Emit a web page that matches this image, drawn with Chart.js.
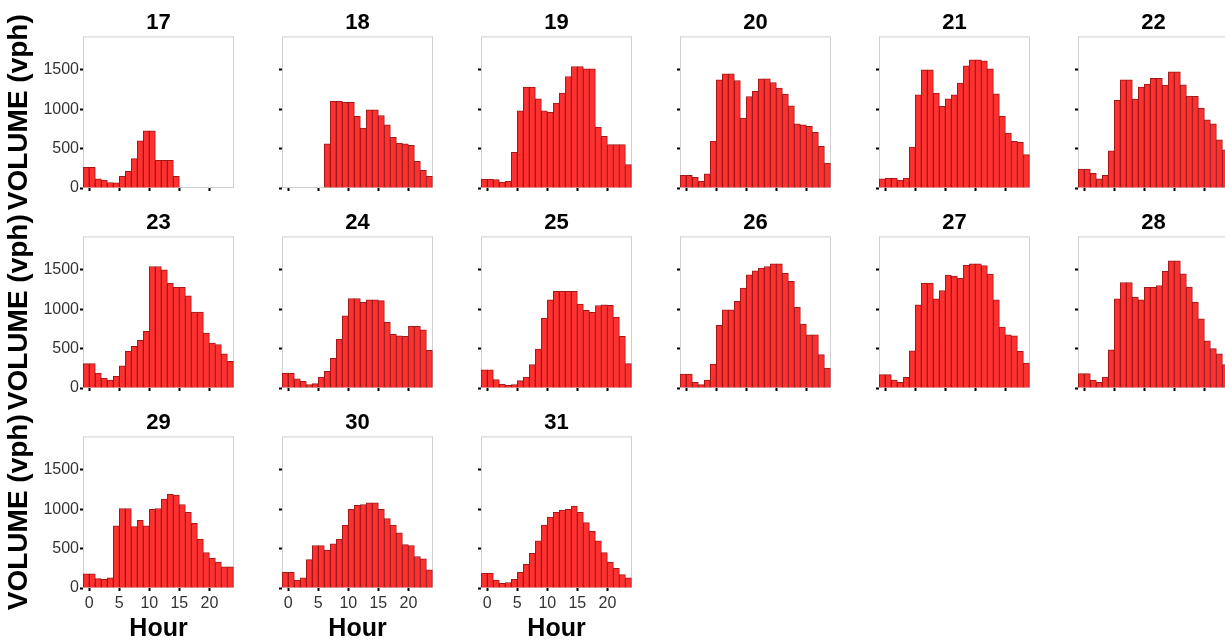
<!DOCTYPE html>
<html>
<head>
<meta charset="utf-8">
<title>Hourly volume by day</title>
<script src="https://cdn.jsdelivr.net/npm/chart.js@4.4.0/dist/chart.umd.min.js"></script>
<style>
    html, body { margin: 0; padding: 0; width: 1225px; height: 644px; overflow: hidden; background: #fff; }
    #grid { position: relative; width: 1225px; height: 644px; }
    #grid canvas { position: absolute; }
</style>
</head>
<body>
<div id="grid"></div>
<script>
// day of month shown above each panel
const days = [17, 18, 19, 20, 21, 22, 23, 24, 25, 26, 27, 28, 29, 30, 31];

// hourly bins, each bar covers [start, start + 1)
const binStarts = [-1, 0, 1, 2, 3, 4, 5, 6, 7, 8, 9, 10, 11, 12, 13, 14, 15, 16, 17, 18, 19, 20, 21, 22, 23];

const xTicks = [0, 5, 10, 15, 20];
const yTicks = [0, 500, 1000, 1500];

// volume (vph) per bin
const vol17 = [262, 262, 118, 100, 70, 65, 148, 211, 372, 600, 727, 727, 351, 351, 351, 148, 0, 0, 0, 0, 0, 0, 0, 0, 0];
const vol18 = [0, 0, 0, 0, 0, 0, 0, 562, 1099, 1099, 1087, 1087, 909, 761, 993, 993, 921, 803, 642, 571, 562, 541, 338, 224, 148];
const vol19 = [114, 114, 106, 76, 85, 452, 981, 1281, 1281, 1133, 981, 960, 1078, 1205, 1416, 1543, 1543, 1513, 1513, 773, 655, 550, 550, 550, 296];
const vol20 = [161, 161, 135, 85, 180, 596, 1374, 1450, 1450, 1365, 888, 1162, 1226, 1386, 1386, 1340, 1268, 1192, 1044, 816, 803, 782, 706, 528, 317];
const vol21 = [118, 127, 127, 101, 127, 520, 1184, 1500, 1500, 1205, 1036, 1133, 1184, 1331, 1551, 1627, 1627, 1615, 1513, 1196, 909, 697, 592, 579, 423];
const vol22 = [241, 241, 186, 118, 161, 473, 1112, 1374, 1374, 1129, 1281, 1319, 1391, 1391, 1306, 1475, 1475, 1310, 1167, 1163, 1015, 867, 816, 613, 486];
const vol23 = [309, 309, 190, 127, 101, 148, 283, 465, 528, 604, 719, 1543, 1543, 1500, 1331, 1277, 1277, 1171, 964, 964, 697, 571, 550, 435, 338];
const vol24 = [190, 190, 118, 85, 42, 55, 140, 211, 376, 621, 917, 1137, 1137, 1087, 1120, 1120, 1110, 833, 681, 664, 655, 782, 782, 740, 478];
const vol25 = [232, 232, 106, 51, 34, 42, 93, 140, 296, 495, 888, 1120, 1226, 1226, 1226, 1226, 1065, 985, 960, 1048, 1057, 1050, 900, 655, 309];
const vol26 = [178, 178, 72, 42, 101, 304, 795, 993, 993, 1099, 1268, 1437, 1488, 1522, 1543, 1577, 1577, 1458, 1353, 1023, 812, 676, 676, 423, 254];
const vol27 = [169, 169, 101, 72, 135, 473, 1057, 1331, 1331, 1133, 1238, 1433, 1420, 1395, 1560, 1577, 1577, 1556, 1446, 1120, 773, 676, 664, 465, 317];
const vol28 = [182, 182, 101, 72, 140, 486, 1133, 1340, 1340, 1154, 1120, 1277, 1277, 1302, 1480, 1615, 1615, 1450, 1281, 1091, 879, 600, 499, 435, 296];
const vol29 = [180, 180, 120, 110, 130, 790, 1010, 1010, 780, 860, 790, 1000, 1010, 1130, 1190, 1180, 1060, 960, 820, 620, 450, 380, 330, 270, 270];
const vol30 = [200, 200, 100, 130, 360, 540, 540, 480, 560, 620, 800, 1000, 1050, 1060, 1080, 1080, 1000, 880, 800, 700, 550, 540, 400, 370, 230];
const vol31 = [190, 190, 100, 60, 70, 110, 200, 300, 440, 600, 800, 900, 960, 990, 1000, 1040, 960, 830, 720, 600, 450, 330, 250, 170, 130];

const volumes = [vol17, vol18, vol19, vol20, vol21, vol22, vol23, vol24, vol25, vol26, vol27, vol28, vol29, vol30, vol31];

// layout of the small multiples
const COLS = 6;
const PLOT_W = 151, PLOT_H = 152;
const COL_STEP = 199, ROW_STEP = 200;
const FIRST_LEFT = 83, FIRST_TOP = 36;
const TITLE_H = 36, X_AXIS_H = 56, PAD_R = 4;
const FONT = '"Liberation Sans", Arial, Helvetica, sans-serif';

// light grey frame round each plot area
const plotFrame = {
    id: 'plotFrame',
    beforeDatasetsDraw(chart) {
        const { ctx, chartArea: a } = chart;
        ctx.save();
        ctx.strokeStyle = '#cfcfcf';
        ctx.lineWidth = 1;
        ctx.strokeRect(a.left + 0.5, a.top + 0.5, a.right - a.left - 1, a.bottom - a.top - 1);
        ctx.restore();
    }
};

const tickMarks = {
    display: true,
    drawOnChartArea: false,
    drawTicks: true,
    tickLength: 3,
    tickWidth: 2,
    tickColor: '#000'
};

function makePanel(day, values, index) {
    const col = index % COLS;
    const row = Math.floor(index / COLS);
    const firstCol = col === 0;
    const bottomRow = row === 2;
    const yWidth = firstCol ? 83 : 20;

    const canvas = document.createElement('canvas');
    const w = yWidth + PLOT_W + PAD_R;
    const h = TITLE_H + PLOT_H + X_AXIS_H;
    canvas.width = w;
    canvas.height = h;
    canvas.style.width = w + 'px';
    canvas.style.height = h + 'px';
    canvas.style.left = (FIRST_LEFT + col * COL_STEP - yWidth) + 'px';
    canvas.style.top = (FIRST_TOP + row * ROW_STEP - TITLE_H) + 'px';
    document.getElementById('grid').appendChild(canvas);

    const points = binStarts.map((s, i) => ({ x: s + 0.5, y: values[i] }));

    return new Chart(canvas.getContext('2d'), {
        type: 'bar',
        data: {
            datasets: [{
                data: points,
                backgroundColor: 'rgb(255, 48, 48)',
                borderColor: 'rgb(160, 24, 24)',
                borderWidth: 1,
                barPercentage: 1,
                categoryPercentage: 1
            }]
        },
        options: {
            responsive: false,
            animation: false,
            devicePixelRatio: 1,
            layout: { padding: { left: 0, right: PAD_R, top: 0, bottom: 0 } },
            scales: {
                x: {
                    type: 'linear',
                    min: -1.05,
                    max: 24.1,
                    offset: false,
                    afterBuildTicks: (scale) => { scale.ticks = xTicks.map(v => ({ value: v })); },
                    afterFit: (scale) => { scale.height = X_AXIS_H; },
                    grid: { ...tickMarks, offset: false },
                    border: { display: false },
                    ticks: {
                        display: bottomRow,
                        padding: 3,
                        maxRotation: 0,
                        autoSkip: false,
                        color: '#333',
                        callback: (v) => String(v),
                        font: { family: FONT, size: 16 }
                    },
                    title: {
                        display: bottomRow,
                        text: 'Hour',
                        color: '#000',
                        padding: { top: 0, bottom: 0 },
                        font: { family: FONT, size: 25, weight: 'bold' }
                    }
                },
                y: {
                    min: 0,
                    max: 1925,
                    afterBuildTicks: (scale) => { scale.ticks = yTicks.map(v => ({ value: v })); },
                    afterFit: (scale) => { scale.width = yWidth; },
                    grid: tickMarks,
                    border: { display: false },
                    ticks: {
                        display: firstCol,
                        padding: 1,
                        color: '#333',
                        callback: (v) => String(v),
                        font: { family: FONT, size: 16 }
                    },
                    title: {
                        display: firstCol,
                        text: 'VOLUME (vph)',
                        color: '#000',
                        padding: { top: 2, bottom: 0 },
                        font: { family: FONT, size: 28, weight: 'bold' }
                    }
                }
            },
            plugins: {
                legend: { display: false },
                tooltip: { enabled: false },
                title: {
                    display: true,
                    fullSize: false,
                    text: String(day),
                    color: '#000',
                    padding: { top: 10, bottom: 0 },
                    font: { family: FONT, size: 22, weight: 'bold' }
                }
            }
        },
        plugins: [plotFrame]
    });
}

document.addEventListener('DOMContentLoaded', () => {
    days.forEach((day, i) => makePanel(day, volumes[i], i));
});
</script>
</body>
</html>
